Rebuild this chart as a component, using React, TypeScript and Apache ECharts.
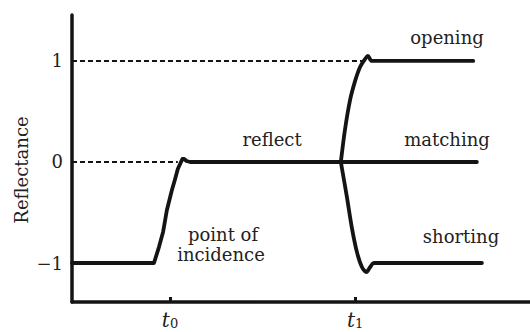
import React, { useEffect, useRef } from "react";
import * as echarts from "echarts";

// x in arbitrary time units (0..100), y = reflectance
const T0 = 21.4;
const T1 = 61.8;
const xTickValues = [T0, T1];
const xTickNames = ["0", "1"];
const yTickValues = [-1, 0, 1];

const mainX = [0, 17.9, 19.0, 19.9, 20.7, 21.8, 22.5, 23.1, 23.8, 24.1, 24.5, 25.0, 25.8, 88.4];
const mainY = [-1, -1, -0.84, -0.69, -0.48, -0.28, -0.17, -0.07, 0.0, 0.03, 0.03, 0.01, 0, 0];

const openX = [58.7, 59.6, 60.7, 61.8, 62.9, 64.0, 64.6, 65.5, 87.6];
const openY = [0, 0.32, 0.61, 0.8, 0.94, 1.02, 1.05, 1.0, 1];

const shortX = [58.7, 60.0, 61.1, 62.2, 63.3, 64.3, 65.1, 65.9, 89.5];
const shortY = [0, -0.34, -0.65, -0.89, -1.04, -1.09, -1.04, -1.0, -1];

const dashOneX = [0, 63.3];
const dashOneY = [1, 1];
const dashZeroX = [0, 23.1];
const dashZeroY = [0, 0];

const zip = (xs: number[], ys: number[]) => xs.map((x, i) => [x, ys[i]]);

const FONT = "'DejaVu Serif', 'Liberation Serif', serif";
const INK = "#141414";

export default function App() {
  const ref = useRef<HTMLDivElement>(null);
  useEffect(() => {
    document.body.style.margin = "0";
    const chart = echarts.init(ref.current!, null, { renderer: "svg" });
    const lineStyle = { color: INK, width: 3.8, cap: "round", join: "round" };
    const dashStyle = { color: INK, width: 2, type: [5, 3] };
    const txt = (text: string, x: number, y: number, extra: any = {}) => ({
      type: "text",
      x,
      y,
      ...extra,
      style: {
        text,
        fontSize: 18,
        fontFamily: FONT,
        fill: "#222",
        align: "center",
        verticalAlign: "middle",
      },
    });
    chart.setOption({
      animation: false,
      backgroundColor: "#ffffff",
      grid: { left: 72, right: 0, top: 15, bottom: 30 },
      xAxis: {
        type: "value",
        min: 0,
        max: 100,
        axisLine: { onZero: false, lineStyle: { color: INK, width: 3.5 } },
        axisTick: {
          customValues: xTickValues,
          inside: true,
          length: 5,
          lineStyle: { color: INK, width: 3 },
        },
        axisLabel: {
          customValues: xTickValues,
          margin: 7,
          formatter: (v: number) => {
            const i = xTickValues.indexOf(v);
            return "{t|t}{s|" + (i >= 0 ? xTickNames[i] : "") + "}";
          },
          rich: {
            t: { fontSize: 20, fontStyle: "italic", fontFamily: FONT, color: "#222" },
            s: { fontSize: 13, fontFamily: FONT, color: "#222", padding: [8, 0, 0, 0] },
          },
        },
        splitLine: { show: false },
      },
      yAxis: {
        type: "value",
        min: -1.386,
        max: 1.455,
        axisLine: { show: true, onZero: false, lineStyle: { color: INK, width: 3.5 } },
        axisTick: { show: false },
        axisLabel: {
          customValues: yTickValues,
          margin: 9,
          fontSize: 18,
          fontFamily: FONT,
          color: "#222",
          formatter: (v: number) => (v < 0 ? "\u2212" + Math.abs(v) : String(v)),
        },
        splitLine: { show: false },
      },
      series: [
        { type: "line", data: zip(dashOneX, dashOneY), symbol: "none", lineStyle: dashStyle },
        { type: "line", data: zip(dashZeroX, dashZeroY), symbol: "none", lineStyle: dashStyle },
        { type: "line", data: zip(mainX, mainY), symbol: "none", lineStyle },
        { type: "line", data: zip(openX, openY), symbol: "none", smooth: 0.3, lineStyle },
        { type: "line", data: zip(shortX, shortY), symbol: "none", smooth: 0.3, lineStyle },
      ],
      graphic: [
        txt("Reflectance", 21, 170, { rotation: Math.PI / 2 }),
        txt("opening", 447, 37),
        txt("matching", 447, 139),
        txt("shorting", 461, 236),
        txt("reflect", 272, 139),
        txt("point of", 223, 234),
        txt("incidence", 221, 254),
      ],
    });
    return () => chart.dispose();
  }, []);
  return <div ref={ref} style={{ width: 530, height: 332 }} />;
}
